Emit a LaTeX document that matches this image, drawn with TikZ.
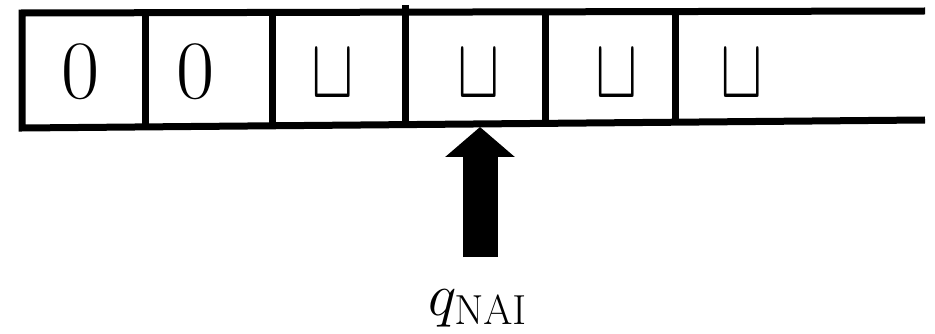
\RequirePackage{fix-cm}
\documentclass[tikz,border=0pt]{standalone}
\usetikzlibrary{arrows.meta}
\DeclareMathSizes{60}{60}{42}{32}
\begin{document}
\begin{tikzpicture}[x=1pt,y=-1pt,
    tape/.style={line width=7pt,line join=miter},
    digit/.style={inner sep=0pt,font=\fontsize{83}{83}\selectfont},
    blank/.style={inner sep=0pt,font=\fontsize{85}{85}\selectfont},
    head/.style={line width=35pt,-{Triangle[width=68pt,length=30pt]}}]
    \useasboundingbox (0,0) rectangle (935,334);%

    \coordinate (TR) at (925,11);%
    \coordinate (TL) at (22,13);%
    \coordinate (BL) at (22,128);%
    \coordinate (BR) at (925,120);%
    \coordinate (D1t) at (145,12.7);%
    \coordinate (D1b) at (145,126.9);%
    \coordinate (D2t) at (272,12.4);%
    \coordinate (D2b) at (272,125.8);%
    \coordinate (D3t) at (405,5);%
    \coordinate (D3b) at (405,124.6);%
    \coordinate (D4t) at (545,11.8);%
    \coordinate (D4b) at (545,123.4);%
    \coordinate (D5t) at (675,11.6);%
    \coordinate (D5b) at (675,122.2);%

    \node[digit] (C1) at (81,72) {0};%
    \node[digit] (C2) at (196,72) {0};%
    \node[blank] (C3) at (333,74) {\scalebox{0.75}[1]{$\sqcup$}};%
    \node[blank] (C4) at (479,74) {\scalebox{0.75}[1]{$\sqcup$}};%
    \node[blank] (C5) at (617,74) {\scalebox{0.75}[1]{$\sqcup$}};%
    \node[blank] (C6) at (742,74) {\scalebox{0.75}[1]{$\sqcup$}};%

    \coordinate (H) at (480,127);%
    \coordinate (A) at (480,257);%
    \node[inner sep=0pt,anchor=base west,font=\fontsize{60}{60}\selectfont] (Q) at (428,315) {$q_{\mathrm{NAI}}$};%

    \draw[tape] (TR) -- (TL) -- (BL) -- (BR);%
    \draw[tape] (D1t) -- (D1b);%
    \draw[tape] (D2t) -- (D2b);%
    \draw[tape] (D3t) -- (D3b);%
    \draw[tape] (D4t) -- (D4b);%
    \draw[tape] (D5t) -- (D5b);%
    \draw[head] (A) -- (H);%
\end{tikzpicture}
\end{document}
